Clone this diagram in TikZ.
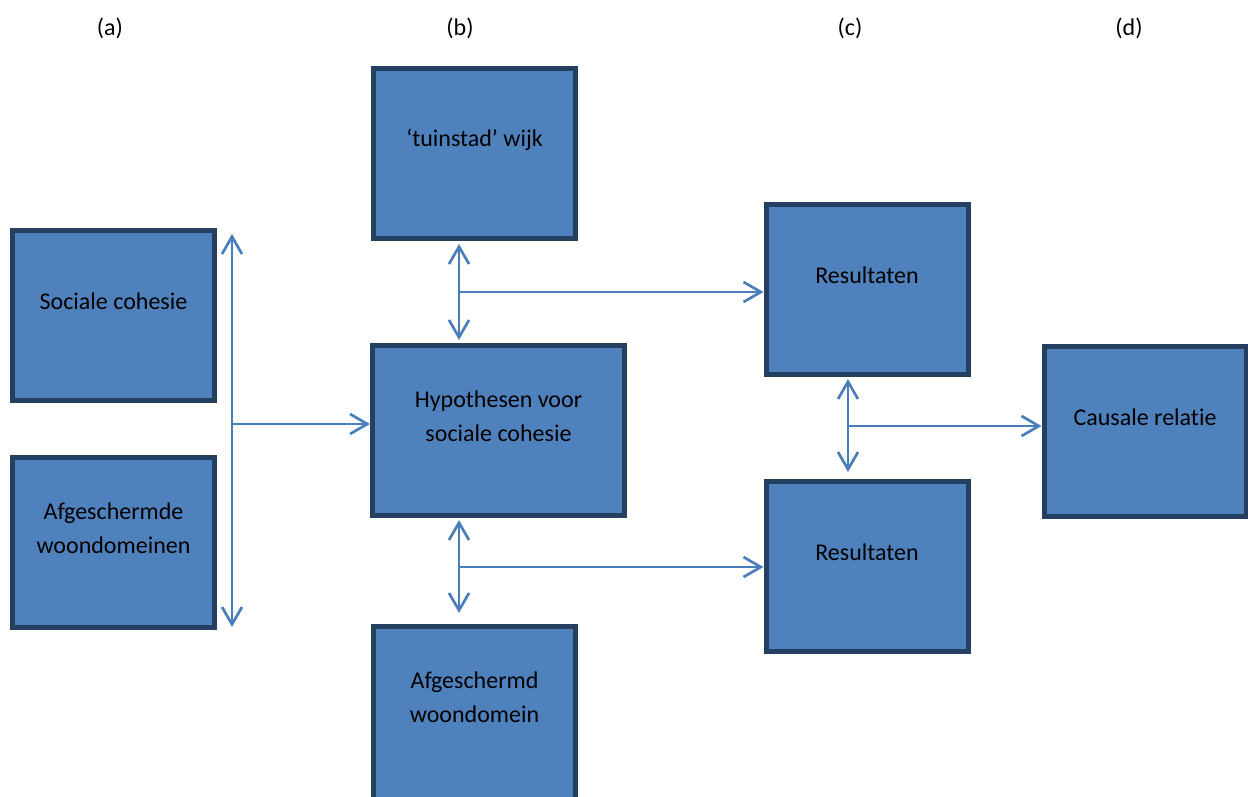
\documentclass[tikz,border=0pt]{standalone}
\usepackage{fontspec}
\setmainfont{Carlito}[Ligatures=NoCommon]
\usetikzlibrary{arrows.meta}
\definecolor{boxfill}{HTML}{4F81BD}
\definecolor{boxline}{HTML}{243F60}
\definecolor{arrcol}{HTML}{4A7EBB}
\tikzset{
  box/.style={draw=boxline, fill=boxfill, line width=3.75pt, minimum width=151.5pt, minimum height=127.5pt, inner sep=0pt},
  txt/.style={font=\fontsize{18pt}{25.5pt}\selectfont, align=center, text=black, inner sep=0pt},
  tb/.style={label={[txt, yshift=10.5pt]center:{#1}}},
  conn/.style={draw=arrcol, line width=2pt, -{Straight Barb[length=13pt,width=15pt,line width=2pt]}},
  dconn/.style={draw=arrcol, line width=2pt, {Straight Barb[length=13pt,width=15pt,line width=2pt]}-{Straight Barb[length=13pt,width=15pt,line width=2pt]}}
}
\begin{document}
\begin{tikzpicture}[x=0.75pt,y=-0.75pt]
\clip (0,0) rectangle (1248,796);
\fill[white] (0,0) rectangle (1248,796);
% column labels
\node[txt] (la) at (110,28) {(a)};
\node[txt] (lb) at (460,28) {(b)};
\node[txt] (lc) at (850,28) {(c)};
\node[txt] (ld) at (1129,28) {(d)};
% boxes
\node[box, tb={Sociale cohesie}] (soc) at (113.5,315.5) {};
\node[box, tb={Afgeschermde\\woondomeinen}] (afgs) at (113.5,542.5) {};
\node[box, tb={‘tuinstad’ wijk}] (tuin) at (474.5,153.5) {};
\node[box, minimum width=189pt, tb={Hypothesen voor\\sociale cohesie}] (hyp) at (498.5,430) {};
\node[box, minimum height=130pt, label={[txt, yshift=12pt]center:{Afgeschermd\\woondomein}}] (afg) at (474.5,713) {};
\node[box, tb={Resultaten}] (res1) at (867,289.5) {};
\node[box, tb={Resultaten}] (res2) at (867,566) {};
\node[box, tb={Causale relatie}] (caus) at (1145,431.5) {};
% connectors
\coordinate (a1) at (232,234);
\coordinate (a2) at (232,627);
\coordinate (am) at (232,424);
\draw[dconn] (a1) -- (a2);
\draw[conn] (am) -- (am -| hyp.west);
\coordinate (b1) at (459,244);
\coordinate (b2) at (459,340);
\coordinate (bm) at (459,292);
\draw[dconn] (b1) -- (b2);
\draw[conn] (bm) -- (bm -| res1.west);
\coordinate (c1) at (459,520);
\coordinate (c2) at (459,613);
\coordinate (cm) at (459,567);
\draw[dconn] (c1) -- (c2);
\draw[conn] (cm) -- (cm -| res2.west);
\coordinate (d1) at (848,379);
\coordinate (d2) at (848,472);
\coordinate (dm) at (848,426);
\draw[dconn] (d1) -- (d2);
\draw[conn] (dm) -- (dm -| caus.west);
\end{tikzpicture}
\end{document}
